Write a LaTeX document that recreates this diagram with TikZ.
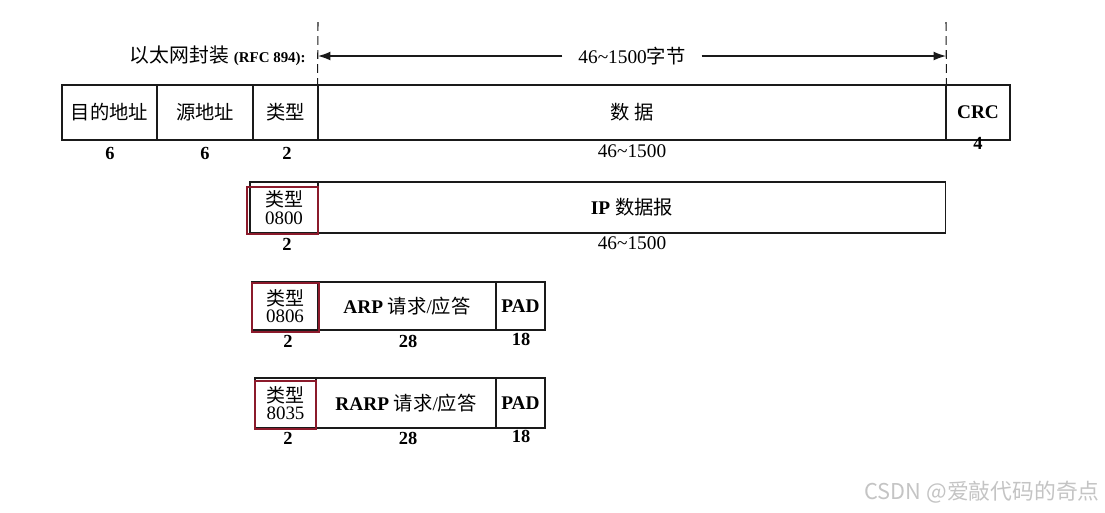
\documentclass[tikz,border=0pt]{standalone}
\usepackage{fontspec}
\setmainfont{Liberation Serif}
\newfontfamily\cjk{Noto Sans CJK SC}
\usetikzlibrary{arrows.meta}
\definecolor{FrameLine}{HTML}{1A1A1A}
\definecolor{TypeMark}{HTML}{8B1A2B}
\definecolor{MarkGray}{HTML}{C4C4C4}
\tikzset{
  field/.style={draw=FrameLine,line width=0.6pt,inner sep=0pt,font=\fontsize{11}{12}\selectfont},
  typefield/.style={field,align=center,font=\fontsize{10.8}{10}\selectfont},
  size/.style={inner sep=0pt,font=\bfseries\fontsize{10.5}{12}\selectfont},
  lensize/.style={inner sep=0pt,font=\fontsize{11}{12}\selectfont},
  typemark/.style={draw=TypeMark,line width=1.6pt},
  bound/.style={FrameLine,dash pattern=on 5pt off 3pt,line width=0.6pt}
}
\begin{document}
\begin{tikzpicture}[x=0.02cm,y=-0.02cm]
      \useasboundingbox (0,0) rectangle (1105,512);

      \node[field,minimum width=1.9cm,minimum height=1.1cm] (dst) at (109.5,112.5) {\cjk 目的地址};
      \node[field,minimum width=1.92cm,minimum height=1.1cm] (src) at (205,112.5) {\cjk 源地址};
      \node[field,minimum width=1.3cm,minimum height=1.1cm] (etype) at (285.5,112.5) {\cjk 类型};
      \node[field,minimum width=12.56cm,minimum height=1.1cm] (data) at (632,112.5) {\cjk 数\ 据};
      \node[field,minimum width=1.28cm,minimum height=1.1cm] (crc) at (978,112.5) {\bfseries CRC};
      \node[size] (dstlen) at (110,153) {6};
      \node[size] (srclen) at (205,153) {6};
      \node[size] (etypelen) at (287,153) {2};
      \node[lensize] (datalen) at (632,151) {46\textasciitilde1500};
      \node[size] (crclen) at (978,143) {4};

      \node[inner sep=0pt,anchor=east,font=\fontsize{11.3}{12}\selectfont] (encap) at (306,56) {{\cjk 以太网封装} {\bfseries\fontsize{8.5}{10}\selectfont (RFC 894):}};
      \coordinate (dashL) at (318,22);
      \coordinate (dashR) at (946,22);
      \draw[bound] (dashL) -- (data.north west);
      \draw[bound] (dashR) -- (data.north east);
      \node[lensize,fill=white,inner xsep=9pt] (bytes) at (632,56) {46\textasciitilde1500{\cjk 字节}};
      \draw[FrameLine,line width=0.7pt,-{Latex[length=7pt,width=5pt]}] (bytes.west) -- (318,56);
      \draw[FrameLine,line width=0.7pt,-{Latex[length=7pt,width=5pt]}] (bytes.east) -- (946,56);

      \node[typefield,minimum width=1.36cm,minimum height=1.02cm] (iptype) at (284,207.5) {{\cjk 类型}\\0800};
      \node[field,minimum width=12.56cm,minimum height=1.02cm] (ip) at (632,207.5) {{\bfseries IP} {\cjk 数据报}};
      \draw[typemark] (247,187) rectangle (318,234);
      \node[size] (iptypelen) at (287,244) {2};
      \node[lensize] (iplen) at (632,243) {46\textasciitilde1500};

      \node[typefield,minimum width=1.32cm,minimum height=0.96cm] (arptype) at (285,306) {{\cjk 类型}\\0806};
      \node[field,minimum width=3.56cm,minimum height=0.96cm] (arp) at (407,306) {{\bfseries ARP} {\cjk 请求}/{\cjk 应答}};
      \node[field,minimum width=0.98cm,minimum height=0.96cm] (arppad) at (520.5,306) {\bfseries PAD};
      \draw[typemark] (252,283) rectangle (319,332);
      \node[size] (arptypelen) at (288,341) {2};
      \node[size] (arplen) at (408,341) {28};
      \node[size] (arppadlen) at (521,339) {18};

      \node[typefield,minimum width=1.22cm,minimum height=1.0cm] (rarptype) at (285.5,403) {{\cjk 类型}\\8035};
      \node[field,minimum width=3.6cm,minimum height=1.0cm] (rarp) at (406,403) {{\bfseries RARP} {\cjk 请求}/{\cjk 应答}};
      \node[field,minimum width=0.98cm,minimum height=1.0cm] (rarppad) at (520.5,403) {\bfseries PAD};
      \draw[typemark] (255,381) rectangle (316,429);
      \node[size] (rarptypelen) at (288,438) {2};
      \node[size] (rarplen) at (408,438) {28};
      \node[size] (rarppadlen) at (521,436) {18};

      \node[inner sep=0pt,anchor=east,text=MarkGray,font=\cjk\fontsize{12.4}{13}\selectfont] (mark) at (1100,492) {CSDN @爱敲代码的奇点};
    \end{tikzpicture}
\end{document}
